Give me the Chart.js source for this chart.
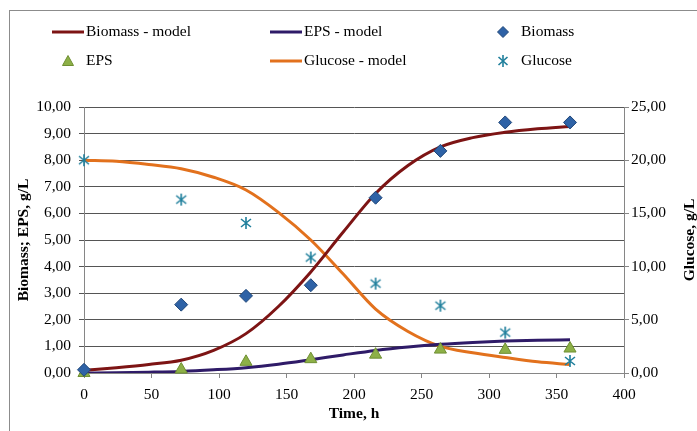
<!DOCTYPE html>
<html>
<head>
<meta charset="utf-8">
<script src="https://cdn.jsdelivr.net/npm/chart.js@4.4.1/dist/chart.umd.min.js"></script>
<style>
html, body { margin: 0; padding: 0; background: #fff; }
#wrap { position: relative; width: 697px; height: 431px; overflow: hidden; }
#frame { position: absolute; left: 9px; top: 10px; width: 800px; height: 600px; border: 1px solid #8c8c8c; }
#chart { position: absolute; left: 0; top: 0; }
.lg { position: absolute; height: 20px; line-height: 20px; white-space: nowrap;
      font: 15.5px "Liberation Serif", "Times New Roman", serif; color: #000; }
.lg svg { position: absolute; left: 0; top: 0; }
.lg span { position: absolute; left: 34px; top: 0; }
</style>
</head>
<body>
<div id="wrap">
  <div id="frame"></div>
  <canvas id="chart" width="697" height="431"></canvas>
  <div id="legend"></div>
</div>
<script>
// measured points (time in h)
var hours = [0, 72, 120, 168, 216, 264, 312, 360];
var biomass = [0.12, 2.57, 2.90, 3.30, 6.59, 8.35, 9.42, 9.42];
var eps = [0.00, 0.13, 0.42, 0.52, 0.69, 0.88, 0.87, 0.92];
var glucose = [20.0, 16.3, 14.1, 10.85, 8.4, 6.33, 3.8, 1.13];

// model curves
var modelHours = [0, 24, 48, 72, 96, 120, 144, 168, 192, 216, 240, 264, 288, 312, 336, 360];
var biomassModel = [0.10, 0.20, 0.32, 0.48, 0.85, 1.48, 2.50, 3.80, 5.30, 6.75, 7.80, 8.50, 8.85, 9.05, 9.18, 9.27];
var epsModel = [0.00, 0.01, 0.03, 0.06, 0.12, 0.20, 0.33, 0.50, 0.68, 0.85, 0.98, 1.08, 1.15, 1.20, 1.23, 1.25];
var glucoseModel = [20.0, 19.9, 19.6, 19.2, 18.4, 17.2, 15.1, 12.5, 9.3, 6.0, 3.9, 2.5, 1.9, 1.45, 1.05, 0.8];

var xTitle = 'Time, h';
var yTitle = 'Biomass; EPS, g/L';
var y2Title = 'Glucose, g/L';

var FONT = '"Liberation Serif", "Times New Roman", serif';
var colBiomassModel = '#7d1414';
var colEpsModel = '#2f1b68';
var colGlucoseModel = '#e2711d';
var colDiamond = '#2e62a6', colDiamondEdge = '#1f4678';
var colTri = '#8db047', colTriEdge = '#6f8f32';
var colStar = '#1f7f9c';

function pairs(xs, ys) {
    return xs.map(function(x, i){ return {x: x, y: ys[i]}; });
}

function comma(v) { return v.toFixed(2).replace('.', ','); }

var starImg = (function(){
    var c = document.createElement('canvas');
    c.width = 14; c.height = 14;
    var g = c.getContext('2d');
    g.strokeStyle = colStar; g.lineWidth = 1.6;
    g.beginPath();
    g.moveTo(7, 1); g.lineTo(7, 13);
    g.moveTo(2, 3); g.lineTo(12, 11);
    g.moveTo(2, 11); g.lineTo(12, 3);
    g.stroke();
    return c;
})();

function modelSet(label, xs, ys, color, axis) {
    return {
        label: label, data: pairs(xs, ys), showLine: true, borderColor: color,
        backgroundColor: color, borderWidth: 3, pointRadius: 0,
        cubicInterpolationMode: 'monotone', yAxisID: axis, order: 2, kind: 'line'
    };
}

var datasets = [
    modelSet('Biomass - model', modelHours, biomassModel, colBiomassModel, 'y'),
    modelSet('EPS - model', modelHours, epsModel, colEpsModel, 'y'),
    { label: 'Biomass', data: pairs(hours, biomass), pointStyle: 'rectRot', pointRadius: 6.5,
      backgroundColor: colDiamond, borderColor: colDiamondEdge, borderWidth: 1, yAxisID: 'y', order: 0, clip: false, kind: 'diamond' },
    { label: 'EPS', data: pairs(hours, eps), pointStyle: 'triangle', pointRadius: 7,
      backgroundColor: colTri, borderColor: colTriEdge, borderWidth: 1, yAxisID: 'y', order: 0, clip: false, kind: 'triangle' },
    modelSet('Glucose - model', modelHours, glucoseModel, colGlucoseModel, 'y2'),
    { label: 'Glucose', data: pairs(hours, glucose), pointStyle: starImg, pointRadius: 7,
      backgroundColor: colStar, borderColor: colStar, yAxisID: 'y2', order: 0, clip: false, kind: 'star' }
];

var rightTitle = {
    id: 'rightTitle',
    afterDraw: function(chart){
        var ctx = chart.ctx, a = chart.chartArea;
        ctx.save();
        ctx.translate(690, (a.top + a.bottom) / 2);
        ctx.rotate(-Math.PI / 2);
        ctx.font = 'bold 15.5px ' + FONT;
        ctx.fillStyle = '#000';
        ctx.textAlign = 'center';
        ctx.textBaseline = 'middle';
        ctx.fillText(y2Title, 0, 0);
        ctx.restore();
    }
};

var tickFont = { family: FONT, size: 15.5 };
var titleFont = { family: FONT, size: 15.5, weight: 'bold', lineHeight: 1 };

var chart = new Chart(document.getElementById('chart').getContext('2d'), {
    type: 'scatter',
    data: { datasets: datasets },
    plugins: [rightTitle],
    options: {
        responsive: false,
        animation: false,
        devicePixelRatio: 1,
        layout: { padding: { top: 107, left: 0, right: 0, bottom: 0 } },
        plugins: { legend: { display: false }, tooltip: { enabled: false } },
        scales: {
            x: {
                type: 'linear', min: 0, max: 400,
                ticks: { stepSize: 50, font: tickFont, color: '#000', padding: 8, maxRotation: 0 },
                grid: { drawOnChartArea: false, tickLength: 5, color: '#868686' },
                border: { color: '#868686' },
                title: { display: true, text: xTitle, font: titleFont, color: '#000', padding: { top: 0, bottom: 9 } },
                afterFit: function(s){ s.height = 58; }
            },
            y: {
                position: 'left', min: 0, max: 10,
                ticks: { stepSize: 1, font: tickFont, color: '#000', padding: 8, callback: comma },
                grid: { tickLength: 5, color: function(c){ return c.tick && c.tick.value === 0 ? '#868686' : '#555'; } },
                border: { color: '#868686' },
                title: { display: true, text: yTitle, font: titleFont, color: '#000', padding: { top: 16, bottom: 0 } },
                afterFit: function(s){ s.width = 84; }
            },
            y2: {
                position: 'right', min: 0, max: 25,
                ticks: { stepSize: 5, font: tickFont, color: '#000', padding: 2, callback: comma },
                grid: { drawOnChartArea: false, tickLength: 5, color: '#868686' },
                border: { color: '#868686' },
                afterFit: function(s){ s.width = 73; }
            }
        }
    }
});

// legend: 3 columns x 2 rows, built from the datasets
function symbol(ds) {
    var s = '<svg width="32" height="20" viewBox="0 0 32 20">';
    if (ds.kind === 'line') {
        s += '<line x1="0" y1="10" x2="32" y2="10" stroke="' + ds.borderColor + '" stroke-width="3"/>';
    } else if (ds.kind === 'diamond') {
        s += '<polygon points="16,4.5 21.5,10 16,15.5 10.5,10" fill="' + colDiamond + '" stroke="' + colDiamondEdge + '" stroke-width="1"/>';
    } else if (ds.kind === 'triangle') {
        s += '<polygon points="16,4.5 21.5,14.5 10.5,14.5" fill="' + colTri + '" stroke="' + colTriEdge + '" stroke-width="1"/>';
    } else {
        s += '<g stroke="' + colStar + '" stroke-width="1.6"><line x1="16" y1="4" x2="16" y2="16"/>' +
             '<line x1="11.5" y1="6" x2="20.5" y2="14"/><line x1="11.5" y1="14" x2="20.5" y2="6"/></g>';
    }
    return s + '</svg>';
}

var legendCols = [52, 270, 487];
var legendRows = [22, 51];
var html = '';
datasets.forEach(function(ds, i){
    var left = legendCols[i % 3], top = legendRows[Math.floor(i / 3)];
    html += '<div class="lg" style="left:' + left + 'px;top:' + top + 'px">' + symbol(ds) + '<span>' + ds.label + '</span></div>';
});
document.getElementById('legend').innerHTML = html;
</script>
</body>
</html>
